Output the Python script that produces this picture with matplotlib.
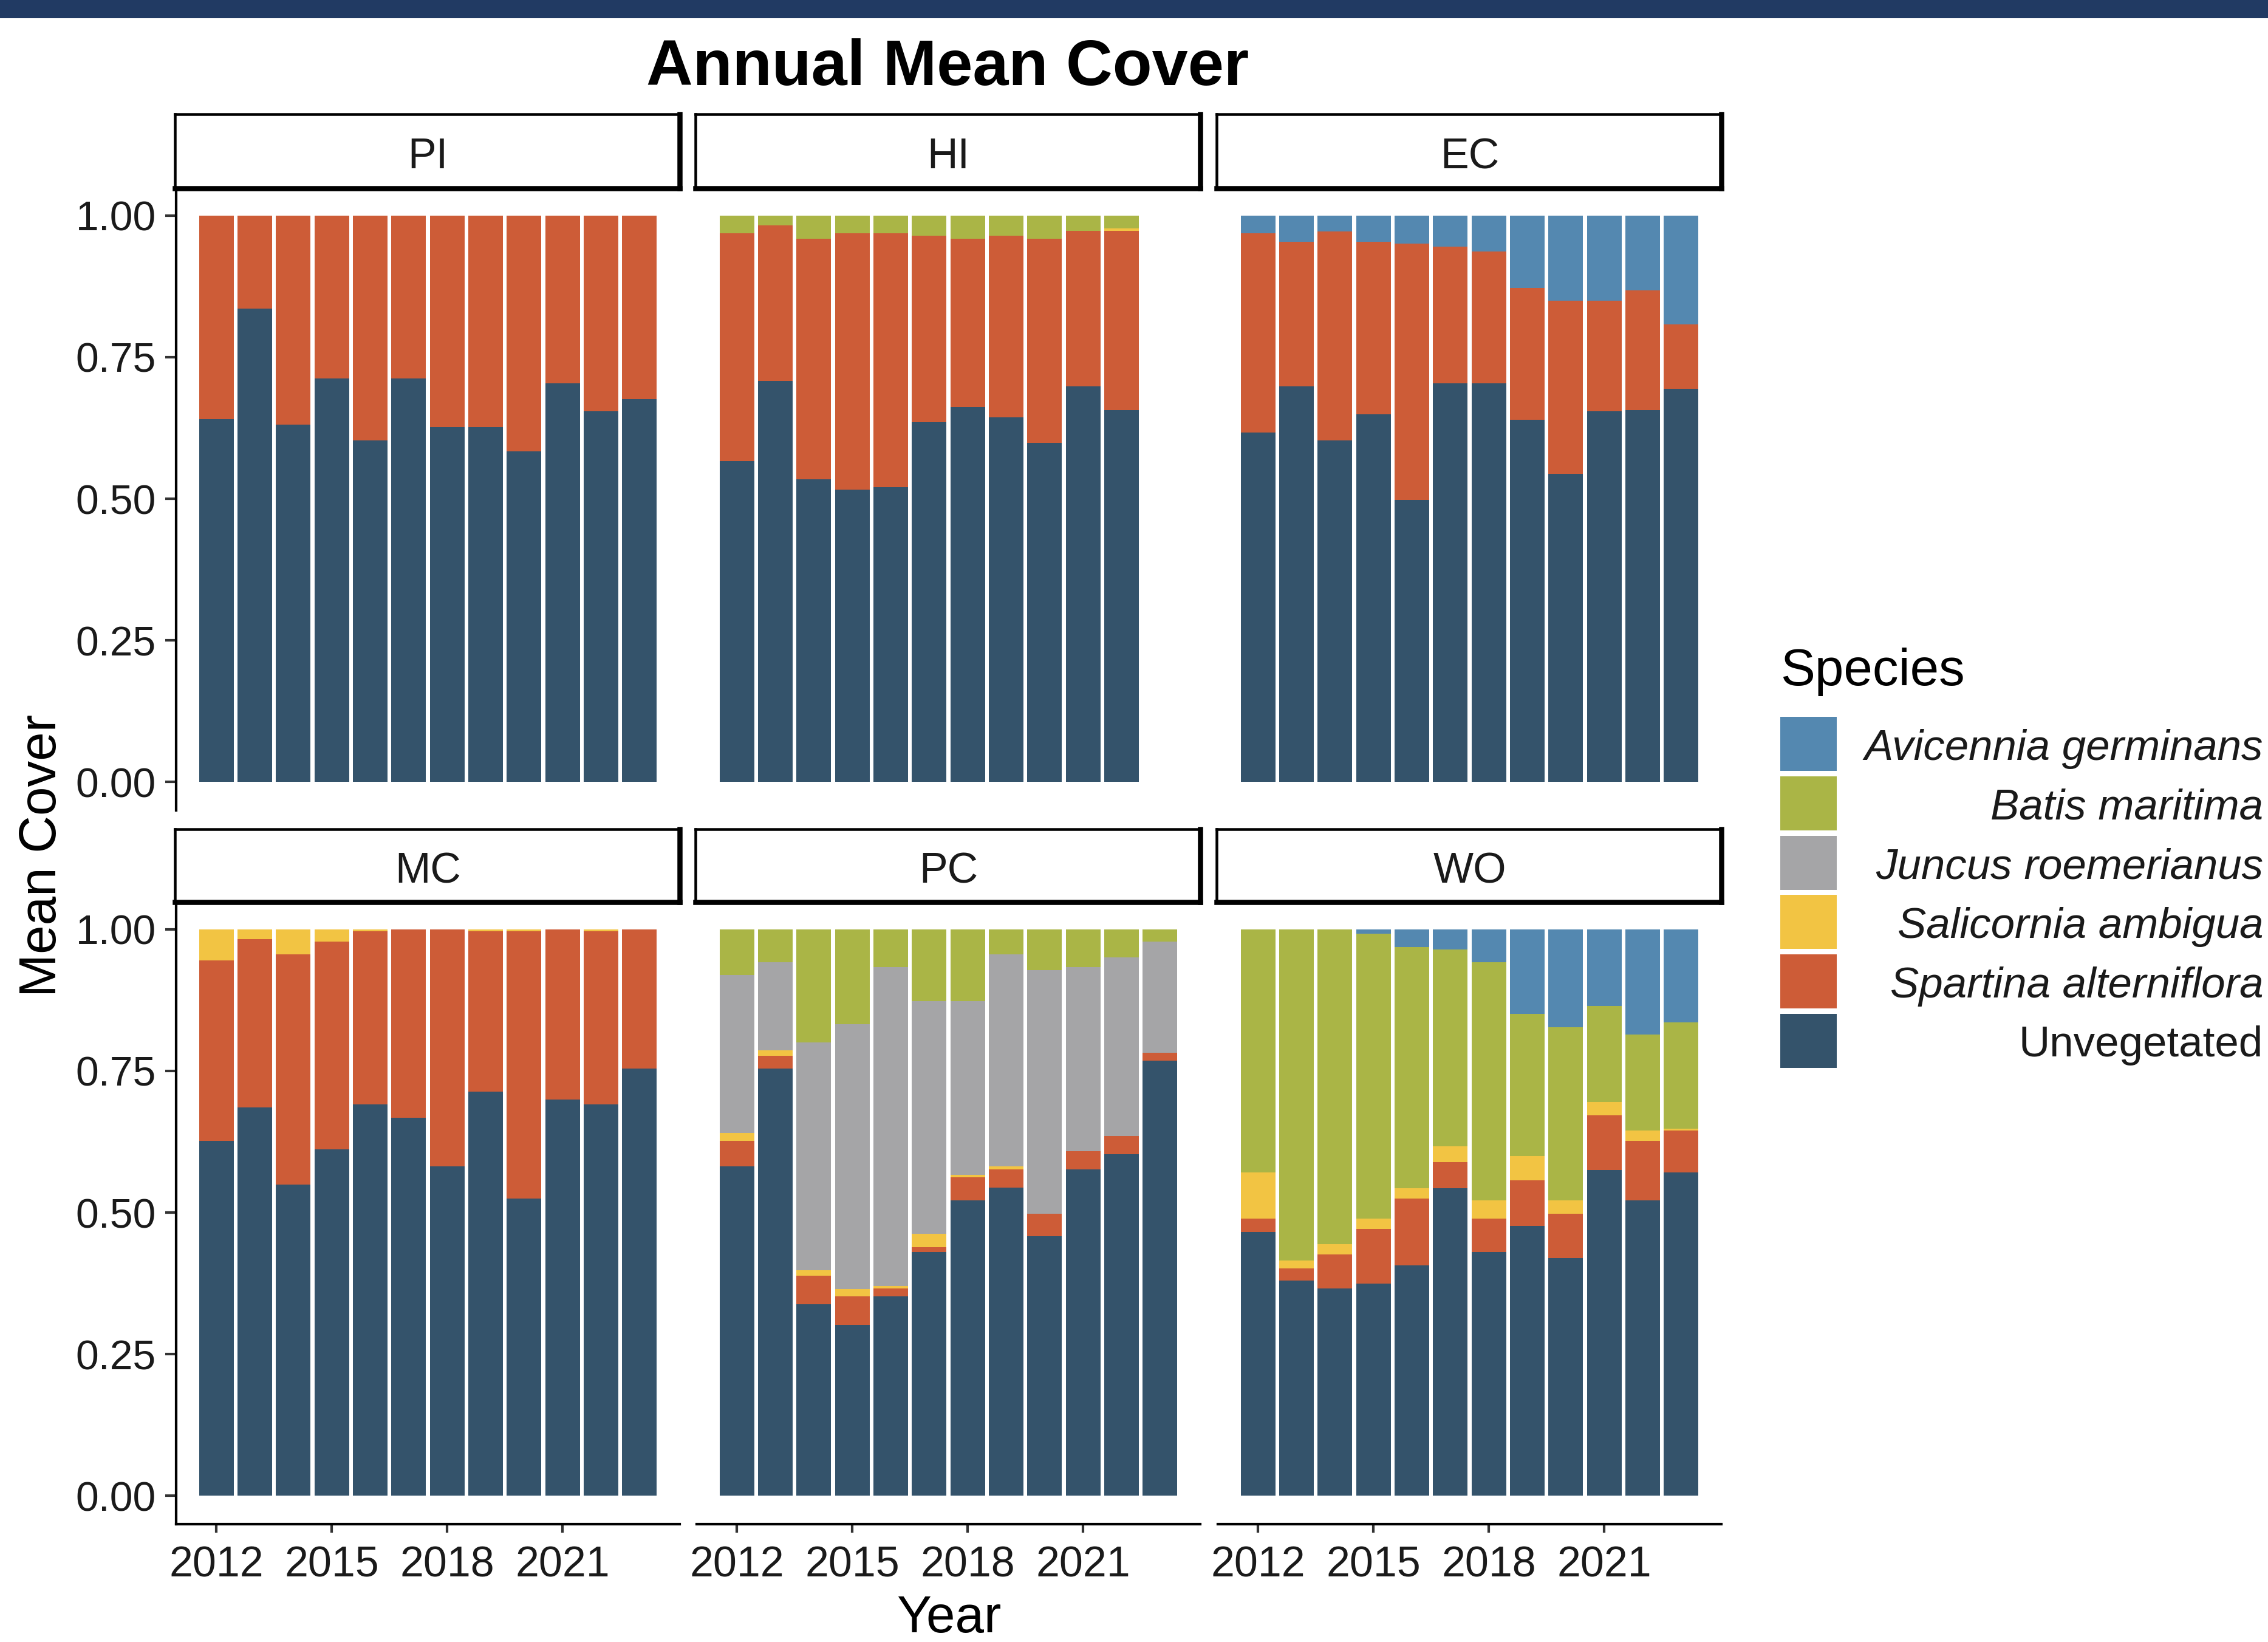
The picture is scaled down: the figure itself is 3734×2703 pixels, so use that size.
import numpy as np
import matplotlib
matplotlib.use("Agg")
import matplotlib.pyplot as plt
from matplotlib.patches import Rectangle

plt.rcParams['font.family'] = ['Liberation Sans', 'DejaVu Sans']

# ---------------------------------------------------------------- data
YEARS = [2012, 2013, 2014, 2015, 2016, 2017, 2018, 2019, 2020, 2021, 2022, 2023]
HI_YEARS = YEARS[:11]
X_TICKS = [2012, 2015, 2018, 2021]
Y_TICKS = [0.00, 0.25, 0.50, 0.75, 1.00]
Y_TICK_LABELS = ["0.00", "0.25", "0.50", "0.75", "1.00"]

SITES = ["PI", "HI", "EC", "MC", "PC", "WO"]
SPECIES = ["Avicennia germinans", "Batis maritima", "Juncus roemerianus",
           "Salicornia ambigua", "Spartina alterniflora", "Unvegetated"]
SPECIES_COLORS = ["#5488b0", "#aab546", "#a5a5a7", "#f2c443", "#cd5c37", "#34536b"]

PI_unvegetated = [0.640, 0.836, 0.631, 0.712, 0.603, 0.712, 0.626, 0.626, 0.584, 0.704, 0.654, 0.676]
PI_spartina = [0.360, 0.164, 0.369, 0.288, 0.397, 0.288, 0.374, 0.374, 0.416, 0.296, 0.346, 0.324]

HI_unvegetated = [0.566, 0.708, 0.534, 0.516, 0.520, 0.635, 0.662, 0.644, 0.599, 0.698, 0.657]
HI_spartina = [0.403, 0.274, 0.425, 0.453, 0.449, 0.329, 0.297, 0.320, 0.360, 0.275, 0.316]
HI_salicornia = [0, 0, 0, 0, 0, 0, 0, 0, 0, 0, 0.004]
HI_batis = [0.031, 0.018, 0.041, 0.031, 0.031, 0.036, 0.041, 0.036, 0.041, 0.027, 0.023]

EC_unvegetated = [0.617, 0.698, 0.603, 0.649, 0.498, 0.704, 0.704, 0.639, 0.544, 0.654, 0.657, 0.694]
EC_spartina = [0.352, 0.256, 0.369, 0.305, 0.452, 0.241, 0.232, 0.233, 0.305, 0.195, 0.211, 0.114]
EC_avicennia = [0.031, 0.046, 0.028, 0.046, 0.050, 0.055, 0.064, 0.128, 0.151, 0.151, 0.132, 0.192]

MC_unvegetated = [0.626, 0.685, 0.549, 0.612, 0.691, 0.667, 0.581, 0.713, 0.525, 0.699, 0.691, 0.754]
MC_spartina = [0.319, 0.297, 0.407, 0.366, 0.305, 0.333, 0.419, 0.283, 0.471, 0.301, 0.305, 0.246]
MC_salicornia = [0.055, 0.018, 0.044, 0.022, 0.004, 0, 0, 0.004, 0.004, 0, 0.004, 0]

PC_unvegetated = [0.581, 0.754, 0.338, 0.302, 0.352, 0.430, 0.521, 0.544, 0.458, 0.576, 0.603, 0.768]
PC_spartina = [0.045, 0.023, 0.051, 0.050, 0.014, 0.009, 0.041, 0.032, 0.040, 0.032, 0.032, 0.014]
PC_salicornia = [0.014, 0.009, 0.009, 0.013, 0.004, 0.023, 0.005, 0.005, 0, 0, 0, 0]
PC_juncus = [0.279, 0.156, 0.402, 0.467, 0.563, 0.411, 0.306, 0.375, 0.430, 0.325, 0.315, 0.196]
PC_batis = [0.081, 0.058, 0.200, 0.168, 0.067, 0.127, 0.127, 0.044, 0.072, 0.067, 0.050, 0.022]

WO_unvegetated = [0.466, 0.380, 0.366, 0.375, 0.407, 0.543, 0.430, 0.476, 0.420, 0.575, 0.521, 0.571]
WO_spartina = [0.023, 0.021, 0.060, 0.096, 0.118, 0.046, 0.059, 0.081, 0.078, 0.097, 0.105, 0.074]
WO_salicornia = [0.082, 0.014, 0.018, 0.018, 0.018, 0.028, 0.032, 0.043, 0.023, 0.023, 0.019, 0.003]
WO_batis = [0.429, 0.585, 0.556, 0.503, 0.425, 0.347, 0.421, 0.251, 0.306, 0.169, 0.169, 0.188]
WO_avicennia = [0, 0, 0, 0.008, 0.032, 0.036, 0.058, 0.149, 0.173, 0.136, 0.186, 0.164]

# site -> (years, {species: values})
site_data = {
    "PI": (YEARS, {"Unvegetated": PI_unvegetated, "Spartina alterniflora": PI_spartina}),
    "HI": (HI_YEARS, {"Unvegetated": HI_unvegetated, "Spartina alterniflora": HI_spartina,
                      "Salicornia ambigua": HI_salicornia, "Batis maritima": HI_batis}),
    "EC": (YEARS, {"Unvegetated": EC_unvegetated, "Spartina alterniflora": EC_spartina,
                   "Avicennia germinans": EC_avicennia}),
    "MC": (YEARS, {"Unvegetated": MC_unvegetated, "Spartina alterniflora": MC_spartina,
                   "Salicornia ambigua": MC_salicornia}),
    "PC": (YEARS, {"Unvegetated": PC_unvegetated, "Spartina alterniflora": PC_spartina,
                   "Salicornia ambigua": PC_salicornia, "Juncus roemerianus": PC_juncus,
                   "Batis maritima": PC_batis}),
    "WO": (YEARS, {"Unvegetated": WO_unvegetated, "Spartina alterniflora": WO_spartina,
                   "Salicornia ambigua": WO_salicornia, "Batis maritima": WO_batis,
                   "Avicennia germinans": WO_avicennia}),
}
color_of = dict(zip(SPECIES, SPECIES_COLORS))

# ---------------------------------------------------------------- layout (pixels)
W, H, DPI = 3734, 2703, 300
fig = plt.figure(figsize=(W / DPI, H / DPI), dpi=DPI)
fig.patch.set_facecolor("white")


def fx(px):
    return px / W


def fy(py):
    return 1 - py / H


def px_pt(px):
    return px / DPI * 72


COL_LEFT = [290, 1147, 2005]
PANEL_W = 829
ROW_TOP = [308, 1483]
PANEL_H = 1026
STRIP_TOP = [188, 1365]
TEXT_COLOR = "#1a1a1a"
AXIS_LW = px_pt(4.2)

# top banner
fig.patches.append(Rectangle((0, fy(30)), 1, 30 / H, transform=fig.transFigure,
                             facecolor="#213a63", edgecolor="none", zorder=0))

for idx, site in enumerate(SITES):
    r, c = divmod(idx, 3)
    left, top = COL_LEFT[c], ROW_TOP[r]
    ax = fig.add_axes([fx(left), fy(top + PANEL_H), PANEL_W / W, PANEL_H / H])
    years, comp = site_data[site]
    bottom = np.zeros(len(years))
    for sp in reversed(SPECIES):
        if sp not in comp:
            continue
        vals = np.array(comp[sp], dtype=float)
        ax.bar(years, vals, width=0.9, bottom=bottom, color=color_of[sp],
               linewidth=0, antialiased=False)
        bottom += vals

    ax.set_xlim(2010.955, 2024.045)
    ax.set_ylim(-0.05, 1.05)
    ax.set_xticks(X_TICKS)
    ax.set_xticklabels([str(t) for t in X_TICKS])
    ax.set_yticks(Y_TICKS)
    ax.set_yticklabels(Y_TICK_LABELS)
    for s in ("top", "right"):
        ax.spines[s].set_visible(False)
    ax.spines["left"].set_visible(c == 0)
    ax.spines["bottom"].set_visible(r == 1)
    for s in ("left", "bottom"):
        ax.spines[s].set_linewidth(AXIS_LW)
        ax.spines[s].set_color("black")
    ax.tick_params(axis="y", left=(c == 0), labelleft=(c == 0), length=px_pt(18),
                   width=AXIS_LW, pad=px_pt(15), labelsize=16.3, labelcolor=TEXT_COLOR,
                   color="#333333")
    ax.tick_params(axis="x", bottom=(r == 1), labelbottom=(r == 1), length=px_pt(14),
                   width=AXIS_LW, pad=px_pt(21), labelsize=16.8, labelcolor=TEXT_COLOR,
                   color="#333333")
    ax.set_facecolor("white")
    ax.patch.set_alpha(0)

    # facet strip
    s_top = STRIP_TOP[r]
    s_h = top + 2 - s_top
    sax = fig.add_axes([fx(left - 2), fy(s_top + s_h), (PANEL_W + 2) / W, s_h / H])
    sax.set_xticks([])
    sax.set_yticks([])
    sax.set_facecolor("white")
    for s in ("top", "left"):
        sax.spines[s].set_linewidth(px_pt(4.5))
    for s in ("right", "bottom"):
        sax.spines[s].set_linewidth(px_pt(8.5))
    for s in sax.spines.values():
        s.set_color("black")
    fig.text(fx(left + PANEL_W / 2), fy(s_top + 89), site, ha="center", va="baseline",
             fontsize=16.8, color=TEXT_COLOR)

# titles
fig.text(fx(1560), fy(140), "Annual Mean Cover", ha="center", va="baseline",
         fontsize=25.5, fontweight="bold", color="black")
fig.text(fx(1562), fy(2687), "Year", ha="center", va="baseline",
         fontsize=20.5, color="black")
fig.text(fx(70), fy(1408), "Mean Cover", ha="center", va="center", rotation=90,
         fontsize=20.5, color="black")

# legend
fig.text(fx(2931), fy(1128), "Species", ha="left", va="baseline",
         fontsize=20.5, color="black")
KEY_LEFT, KEY_W, KEY_H, KEY_TOP0, KEY_STEP = 2931, 93, 89, 1180, 97.8
LABEL_RIGHT = 3726
for i, sp in enumerate(SPECIES):
    ktop = KEY_TOP0 + i * KEY_STEP
    fig.patches.append(Rectangle((fx(KEY_LEFT), fy(ktop + KEY_H)), KEY_W / W, KEY_H / H,
                                 transform=fig.transFigure, facecolor=color_of[sp],
                                 edgecolor="none"))
    style = "normal" if sp == "Unvegetated" else "italic"
    fig.text(fx(LABEL_RIGHT), fy(ktop + KEY_H / 2 + 26), sp, ha="right", va="baseline",
             fontsize=17, style=style, color=TEXT_COLOR)

fig.savefig("out.png", dpi=DPI, facecolor="white")
